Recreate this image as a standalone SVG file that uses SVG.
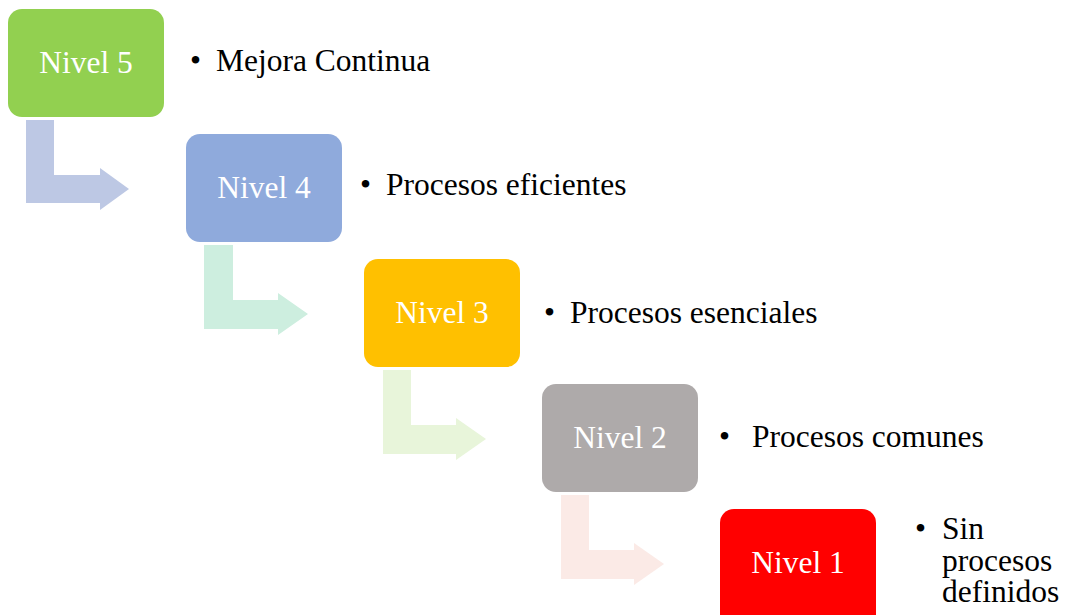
<svg xmlns="http://www.w3.org/2000/svg" width="1065" height="615" viewBox="0 0 1065 615">
<style>
.box{stroke:none}
.lbl{font-family:'Liberation Serif','Times New Roman',Times,'DejaVu Serif',serif;font-size:31.5px;fill:#ffffff;text-anchor:middle}
.txt{font-family:'Liberation Serif','Times New Roman',Times,'DejaVu Serif',serif;font-size:31.5px;fill:#000000}
</style>
<rect width="1065" height="615" fill="#ffffff"/>
<g id="connectors">
<path d="M26,120 H54 V175 H100 V168 L129,189 L100,210 V203 H26 Z" fill="#BDC8E4"/>
<path d="M204,245 H233 V300 H278 V293 L308,314 L278,335 V329 H204 Z" fill="#CDEEDF"/>
<path d="M383,370 H411 V425 H456 V418 L486,439 L456,460 V454 H383 Z" fill="#E8F5DA"/>
<path d="M561,495 H589 V550 H634 V543 L664,564 L634,585 V579 H561 Z" fill="#FBEAE6"/>
</g>
<g id="nivel5">
<rect class="box" x="8" y="9" width="156" height="108" rx="14" fill="#92D050"/>
<text class="lbl" x="86" y="73">Nivel 5</text>
<text class="txt" x="190" y="71">•</text>
<text class="txt" x="216" y="71">Mejora Continua</text>
</g>
<g id="nivel4">
<rect class="box" x="186" y="134" width="156" height="108" rx="14" fill="#8FAADC"/>
<text class="lbl" x="264" y="198">Nivel 4</text>
<text class="txt" x="360" y="195">•</text>
<text class="txt" x="386" y="195">Procesos eficientes</text>
</g>
<g id="nivel3">
<rect class="box" x="364" y="259" width="156" height="108" rx="14" fill="#FFC000"/>
<text class="lbl" x="442" y="323">Nivel 3</text>
<text class="txt" x="544" y="323">•</text>
<text class="txt" x="570" y="323">Procesos esenciales</text>
</g>
<g id="nivel2">
<rect class="box" x="542" y="384" width="156" height="108" rx="14" fill="#AEAAAA"/>
<text class="lbl" x="620" y="448">Nivel 2</text>
<text class="txt" x="719" y="447">•</text>
<text class="txt" x="752" y="447">Procesos comunes</text>
</g>
<g id="nivel1">
<rect class="box" x="720" y="509" width="156" height="120" rx="14" fill="#FF0000"/>
<text class="lbl" x="798" y="573">Nivel 1</text>
<text class="txt" x="915" y="539">•</text>
<text class="txt" x="942" y="539">Sin<tspan x="942" dy="32">procesos</tspan><tspan x="942" dy="31">definidos</tspan></text>
</g>
</svg>
